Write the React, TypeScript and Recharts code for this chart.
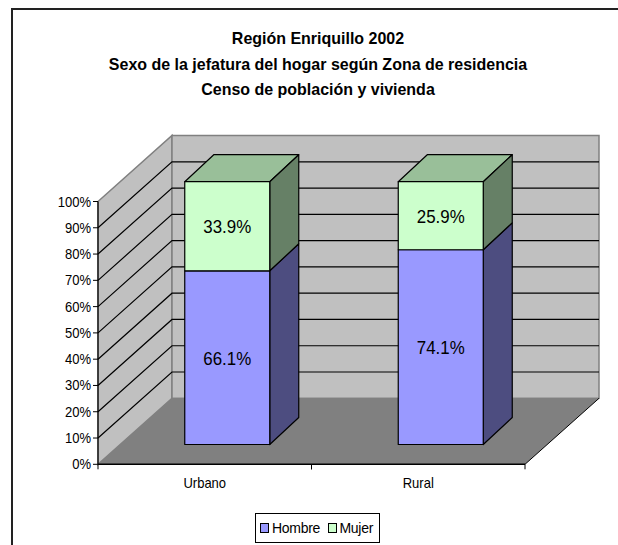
import { BarChart, Bar, XAxis, YAxis, ReferenceArea, ReferenceLine, LabelList, Legend } from 'recharts'

const zonas = ['Urbano', 'Rural']
const hombre = [66.1, 74.1]
const mujer = [33.9, 25.9]
const yTicks = [0, 10, 20, 30, 40, 50, 60, 70, 80, 90, 100]
const titleLines = [
  'Región Enriquillo 2002',
  'Sexo de la jefatura del hogar según Zona de residencia',
  'Censo de población y vivienda',
]

const data = zonas.map((zona, i) => ({ zona, Hombre: hombre[i], Mujer: mujer[i] }))

const FONT = 'Arial, "Liberation Sans", sans-serif'
// 3d offsets: wall depth and where the bars sit inside it
const WALL_DX = 74
const WALL_DY = 66
const BAR_DX = 22.75
const BAR_DY = 19.8
const BAR_DEPTH_X = 29
const BAR_DEPTH_Y = 27
const BAND = 213.5

// the reference text is a bit squeezed horizontally
function NarrowText({ x, y, size, sx, anchor, children }: any) {
  return (
    <text
      transform={`translate(${x},${y}) scale(${sx},1)`}
      textAnchor={anchor}
      fontSize={size}
      fontFamily={FONT}
      fill="#000"
    >
      {children}
    </text>
  )
}

function Walls({ x, y, width, height }: any) {
  const b = y + height
  const r = x + width
  return (
    <g>
      <polygon
        points={`${x},${y} ${x + WALL_DX},${y - WALL_DY} ${x + WALL_DX},${b - WALL_DY} ${x},${b}`}
        fill="#c0c0c0"
        stroke="#808080"
        strokeWidth={1.5}
      />
      <rect
        x={x + WALL_DX}
        y={y - WALL_DY}
        width={width}
        height={height}
        fill="#c0c0c0"
        stroke="#808080"
        strokeWidth={1.5}
      />
      <polygon
        points={`${x},${b} ${x + WALL_DX},${b - WALL_DY} ${r + WALL_DX},${b - WALL_DY} ${r},${b}`}
        fill="#808080"
      />
      <line x1={r} y1={b} x2={r + WALL_DX} y2={b - WALL_DY} stroke="#000" />
    </g>
  )
}

function WallLine({ x1, y1, x2 }: any) {
  const y = y1
  return (
    <polyline
      points={`${x1},${y} ${x1 + WALL_DX},${y - WALL_DY} ${x2 + WALL_DX},${y - WALL_DY}`}
      fill="none"
      stroke="#000"
      strokeWidth={1.2}
    />
  )
}

function Box3d({ x, y, width, height, fill, side, top }: any) {
  const l = x + BAR_DX
  const t = y - BAR_DY
  const r = l + width
  const b = t + height
  return (
    <g stroke="#000" strokeWidth={1.2} strokeLinejoin="round">
      {top && (
        <polygon
          points={`${l},${t} ${l + BAR_DEPTH_X},${t - BAR_DEPTH_Y} ${r + BAR_DEPTH_X},${t - BAR_DEPTH_Y} ${r},${t}`}
          fill={top}
        />
      )}
      <polygon
        points={`${r},${t} ${r + BAR_DEPTH_X},${t - BAR_DEPTH_Y} ${r + BAR_DEPTH_X},${b - BAR_DEPTH_Y} ${r},${b}`}
        fill={side}
      />
      <rect x={l} y={t} width={width} height={height} fill={fill} />
    </g>
  )
}

function ZonaTick({ x, y, payload }: any) {
  return (
    <g>
      <line x1={x - BAND / 2} y1={y - 8} x2={x - BAND / 2} y2={y - 3} stroke="#000" />
      <line x1={x + BAND / 2} y1={y - 8} x2={x + BAND / 2} y2={y - 3} stroke="#000" />
      <NarrowText x={x} y={y + 16} size={14} sx={0.93} anchor="middle">
        {payload.value}
      </NarrowText>
    </g>
  )
}

function PctTick({ x, y, payload }: any) {
  return (
    <NarrowText x={x} y={y + 5} size={14} sx={0.93} anchor="end">
      {`${payload.value}%`}
    </NarrowText>
  )
}

function BarValue({ x, y, width, height, value }: any) {
  return (
    <NarrowText x={x + BAR_DX + width / 2} y={y - BAR_DY + height / 2 + 7} size={19} sx={0.89} anchor="middle">
      {`${Number(value).toFixed(1)}%`}
    </NarrowText>
  )
}

function LegendBox() {
  const items = [
    { name: 'Hombre', color: '#9999ff', width: 67.5 },
    { name: 'Mujer', color: '#ccffcc', width: 47 },
  ]
  return (
    <div
      style={{
        width: 125,
        height: 30,
        border: '1px solid #000',
        boxSizing: 'border-box',
        display: 'flex',
        alignItems: 'center',
        paddingLeft: 4,
        background: '#fff',
        fontFamily: FONT,
        fontSize: 14,
        letterSpacing: -0.3,
        color: '#000',
      }}
    >
      {items.map((it) => (
        <span key={it.name} style={{ display: 'flex', alignItems: 'center', width: it.width }}>
          <span
            style={{
              width: 7,
              height: 8,
              background: it.color,
              border: '1px solid #000',
              marginRight: 3,
              boxSizing: 'content-box',
              flex: 'none',
            }}
          />
          {it.name}
        </span>
      ))}
    </div>
  )
}

export default function App() {
  return (
    <div style={{ position: 'absolute', left: 0, top: 0, width: 618, height: 545, overflow: 'hidden', background: '#fff' }}>
      {/* outer frame, bottom and right edges run off the crop */}
      <div
        style={{
          position: 'absolute',
          left: 11,
          top: 8,
          width: 700,
          height: 700,
          border: '2px solid #222',
          boxSizing: 'border-box',
        }}
      />
      {titleLines.map((line, i) => (
        <div
          key={line}
          style={{
            position: 'absolute',
            left: 0,
            width: 636,
            top: 29 + i * 25.5,
            textAlign: 'center',
            fontFamily: FONT,
            fontWeight: 'bold',
            fontSize: 17,
            lineHeight: '20px',
            color: '#000',
            transform: 'scaleX(0.94)',
          }}
        >
          {line}
        </div>
      ))}
      <BarChart
        width={618}
        height={545}
        data={data}
        margin={{ top: 201.5, right: 93, bottom: 20.7, left: 0 }}
        barSize={85}
        style={{ position: 'absolute', left: 0, top: 0 }}
      >
        <XAxis
          dataKey="zona"
          height={30}
          axisLine={{ stroke: '#000', strokeWidth: 1.5 }}
          tickLine={false}
          tick={<ZonaTick />}
          interval={0}
        />
        <YAxis
          domain={[0, 100]}
          ticks={yTicks}
          width={98}
          axisLine={{ stroke: '#000', strokeWidth: 1.2 }}
          tickLine={{ stroke: '#000' }}
          tickSize={5}
          tickMargin={2}
          tick={<PctTick />}
        />
        <ReferenceArea y1={0} y2={100} shape={<Walls />} zIndex={-50} />
        {yTicks
          .filter((t) => t > 0 && t < 100)
          .map((t) => (
            <ReferenceLine key={t} y={t} shape={<WallLine />} zIndex={-40} />
          ))}
        <Bar
          dataKey="Hombre"
          stackId="a"
          isAnimationActive={false}
          shape={<Box3d fill="#9999ff" side="#4d4d80" />}
        >
          <LabelList dataKey="Hombre" content={<BarValue />} />
        </Bar>
        <Bar
          dataKey="Mujer"
          stackId="a"
          isAnimationActive={false}
          shape={<Box3d fill="#ccffcc" side="#668066" top="#99bf99" />}
        >
          <LabelList dataKey="Mujer" content={<BarValue />} />
        </Bar>
        <Legend
          content={<LegendBox />}
          wrapperStyle={{ position: 'absolute', left: 255, top: 513, width: 125, bottom: 'auto' }}
        />
      </BarChart>
    </div>
  )
}
